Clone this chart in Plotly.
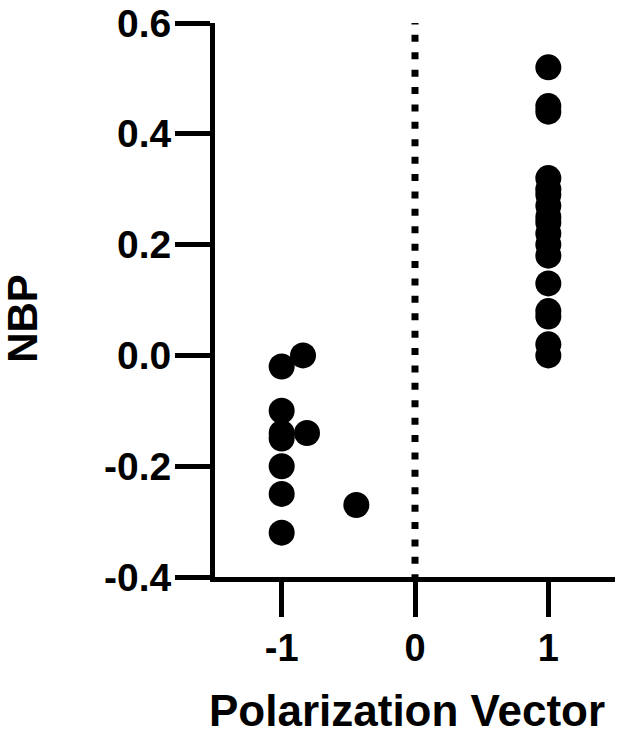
import plotly.graph_objects as go

# polarization vector (x) and NBP (y)
neg_x = [-1, -1, -1, -1, -1, -1, -1, -0.84, -0.81, -0.44]
neg_y = [-0.02, -0.10, -0.14, -0.15, -0.20, -0.25, -0.32, 0.00, -0.14, -0.27]

pos_y = [0.52, 0.45, 0.44, 0.32, 0.30, 0.29, 0.27, 0.25, 0.24, 0.22,
         0.20, 0.18, 0.13, 0.08, 0.07, 0.02, 0.00]
pos_x = [1] * len(pos_y)

x_ticks = [-1, 0, 1]
y_ticks = [-0.4, -0.2, 0.0, 0.2, 0.4, 0.6]
y_tick_text = ["-0.4", "-0.2", "0.0", "0.2", "0.4", "0.6"]

FONT = "Liberation Sans, Arial, sans-serif"

fig = go.Figure()

fig.add_trace(go.Scatter(
    x=neg_x + pos_x,
    y=neg_y + pos_y,
    mode="markers",
    marker=dict(size=26, color="black", line=dict(width=0)),
    cliponaxis=False,
    showlegend=False,
))

# dotted reference line at x = 0
fig.add_shape(type="line", xref="x", yref="y",
              x0=0, x1=0, y0=0.61, y1=-0.4,
              line=dict(color="black", width=7, dash="7px,10.4px"))

axis_common = dict(
    showline=True, linecolor="black", linewidth=5,
    ticks="outside", ticklen=35, tickwidth=5, tickcolor="black",
    showgrid=False, zeroline=False, ticklabeloverflow="allow",
)

fig.update_xaxes(range=[-1.5, 1.5], tickvals=x_ticks, ticktext=["-1", "0", "1"],
                 ticklabelstandoff=-2,
                 tickfont=dict(family=FONT, size=38, color="black", weight="bold"),
                 **axis_common)
fig.update_yaxes(range=[-0.4, 0.6], tickvals=y_ticks, ticktext=y_tick_text,
                 ticklabelstandoff=-4,
                 tickfont=dict(family=FONT, size=39, color="black", weight="bold"),
                 **axis_common)

fig.add_annotation(text="Polarization Vector", xref="paper", yref="paper",
                   x=0.48, y=-0.241, xanchor="center", yanchor="middle",
                   showarrow=False,
                   font=dict(family=FONT, size=44, color="black", weight="bold"))
fig.add_annotation(text="NBP", xref="paper", yref="paper",
                   x=-0.48, y=0.466, xanchor="center", yanchor="middle",
                   textangle=-90, showarrow=False,
                   font=dict(family=FONT, size=42, color="black", weight="bold"))

fig.update_layout(
    width=617, height=746,
    margin=dict(l=215, r=2, t=17, b=169),
    paper_bgcolor="white", plot_bgcolor="white",
)

# drop the default 8px body margin so the chart sits at the page corner
fig.write_html("out.html", config={"displayModeBar": False},
               post_script="document.body.style.margin = '0';")
